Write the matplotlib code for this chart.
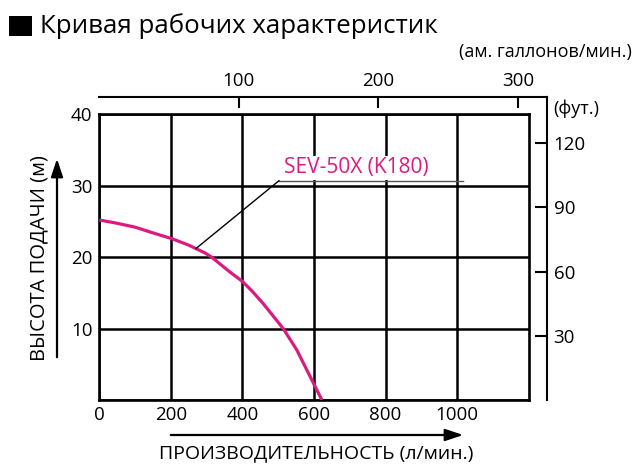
import numpy as np
import matplotlib
matplotlib.use('Agg')
import matplotlib.pyplot as plt
from matplotlib.patches import FancyArrowPatch, Rectangle

plt.rcParams['font.family'] = ['Open Sans', 'DejaVu Sans']

# --- data ---
flow_lpm = [0, 44, 100, 156, 202, 249, 295, 314, 363, 400, 426, 458, 514, 552, 589, 622]
head_m = [25.2, 24.8, 24.2, 23.3, 22.6, 21.7, 20.6, 20.0, 18.0, 16.6, 15.3, 13.5,
          10.0, 7.0, 3.3, 0.0]
model = 'SEV-50X (K180)'

x_ticks = [0, 200, 400, 600, 800, 1000]
y_ticks = [10, 20, 30, 40]
gal_ticks = [100, 200, 300]
ft_ticks = [30, 60, 90, 120]

pink = '#dd1a7f'
W, H = 640, 472

fig = plt.figure(figsize=(6.4, 4.72), dpi=100)

def px(x0, y0, x1, y1):
    return [x0 / W, 1 - y1 / H, (x1 - x0) / W, (y1 - y0) / H]

# main grid
ax = fig.add_axes(px(99.3, 114.3, 528.7, 400))
ax.plot(flow_lpm, head_m, color=pink, linewidth=2.3, zorder=3,
        solid_joinstyle='round', solid_capstyle='butt')
ax.set_xlim(0, 1200)
ax.set_ylim(0, 40)
ax.set_xticks(x_ticks)
ax.set_yticks(y_ticks + [0])
ax.set_yticklabels([str(v) for v in y_ticks] + [''])
ax.grid(True, color='black', linewidth=1.8)
ax.tick_params(length=0, labelsize=13.5, pad=5)
ax.tick_params(axis='x', pad=4)
for s in ax.spines.values():
    s.set_linewidth(1.9)

# outer frame with gallon and feet scales
ax2 = fig.add_axes(px(99.3, 96.7, 546.7, 400))
ax2.patch.set_visible(False)
ax2.set_xlim(0, 320.7)
ax2.set_ylim(0, 141.7)
for side in ['left', 'bottom']:
    ax2.spines[side].set_visible(False)
for side in ['top', 'right']:
    ax2.spines[side].set_linewidth(1.5)
ax2.xaxis.tick_top()
ax2.yaxis.tick_right()
ax2.set_xticks(gal_ticks)
ax2.set_yticks(ft_ticks)
ax2.tick_params(axis='x', direction='in', length=8, width=1.5, labelsize=13.5, pad=5)
ax2.tick_params(axis='y', direction='in', length=8.5, width=1.5, labelsize=13.5, pad=5)

# curve label with leader
lx = 270
ly = np.interp(lx, flow_lpm, head_m)
ax.plot([502, 1016], [30.7, 30.7], color='#555555', linewidth=1.0, zorder=4, clip_on=False)
ax.plot([lx, 502], [ly, 30.7], color='black', linewidth=1.0, zorder=4)
ax.text(516, 32.5, model, color=pink, fontsize=15, va='center', ha='left', zorder=5,
        bbox=dict(facecolor='white', edgecolor='none', pad=1))

# title
fig.patches.append(Rectangle((9 / W, 1 - 36 / H), 23 / W, 20 / H,
                             transform=fig.transFigure, facecolor='black', edgecolor='none'))
fig.text(40 / W, 1 - 26 / H, 'Кривая рабочих характеристик', fontsize=18.6,
         va='center', ha='left')
fig.text(632 / W, 1 - 52 / H, '(ам. галлонов/мин.)', fontsize=13, va='center', ha='right')
fig.text(553 / W, 1 - 109 / H, '(фут.)', fontsize=13, va='center', ha='left')

# axis titles with arrows
fig.text(39 / W, 1 - 258 / H, 'ВЫСОТА ПОДАЧИ (м)', fontsize=14.5, rotation=90,
         va='center', ha='center')
fig.text(316 / W, 1 - 453 / H, 'ПРОИЗВОДИТЕЛЬНОСТЬ (л/мин.)', fontsize=14,
         va='center', ha='center')
arrow = dict(arrowstyle='-|>,head_length=0.9,head_width=0.3', color='black', linewidth=1.6)
fig.patches.append(FancyArrowPatch((57 / W, 1 - 360 / H), (57 / W, 1 - 156 / H),
                                   transform=fig.transFigure, mutation_scale=12, **arrow))
fig.patches.append(FancyArrowPatch((168 / W, 1 - 435 / H), (466 / W, 1 - 435 / H),
                                   transform=fig.transFigure, mutation_scale=12, **arrow))

fig.savefig('out.png', dpi=100)
